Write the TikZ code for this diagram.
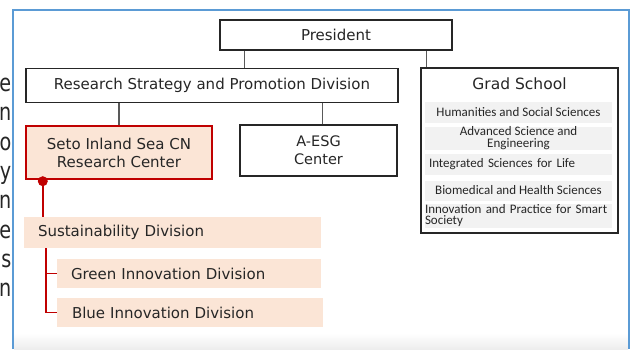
\documentclass[tikz,border=0pt]{standalone}
\usepackage{fontspec}
\setmainfont{DejaVu Sans}
\newfontfamily\gradfont{Carlito}
\usepackage{tikz}
\usetikzlibrary{calc}

\definecolor{tRed}{HTML}{C00000}
\definecolor{tPeach}{HTML}{FBE5D6}
\definecolor{tGrey}{HTML}{F2F2F2}
\definecolor{tBlue}{HTML}{5B9BD5}
\definecolor{tInk}{HTML}{262626}

\tikzset{
  unitbox/.style={draw=black!85, line width=1.2pt, fill=white, inner sep=0pt,
    text=tInk, font=\fontsize{15}{18}\selectfont, align=center},
  redunit/.style={unitbox, draw=tRed, line width=2.4pt, fill=tPeach},
  peachbar/.style={fill=tPeach, inner sep=0pt, inner xsep=14pt, text=tInk,
    font=\fontsize{15}{18}\selectfont, align=left},
  gradbar/.style={fill=tGrey, inner sep=0pt, minimum width=187pt, text=tInk,
    font=\gradfont\fontsize{13}{12}\selectfont},
  conn/.style={draw=black!65, line width=1.1pt},
  redline/.style={draw=tRed, line width=1.6pt},
  bluerule/.style={draw=tBlue, line width=1.4pt}
}

\begin{document}
\begin{tikzpicture}[x=1pt,y=-1pt]
\useasboundingbox (0,0) rectangle (633,349);
\shade[top color=white, bottom color=black!7] (14,333) rectangle (628,349);
\draw[bluerule] (13,349) |- (629,10) -- (629,349);

% clipped letters of the paragraph on the left
\foreach \ch [count=\i] in {e,n,o,y,n,e,s,n}
  \node[anchor=base east, inner sep=0pt, text=tInk, font=\fontsize{24}{28}\selectfont]
    (lt\i) at (11.5,{91.5+(\i-1)*29.3}) {\scalebox{0.8}[1]{\ch}};

\node[unitbox, minimum width=232pt, minimum height=30pt] (pres) at (336,35) {President};
\node[unitbox, minimum width=372pt, minimum height=34pt] (rspd) at (212,85.5) {Research Strategy and Promotion Division};
\node[redunit, minimum width=186pt, minimum height=53pt] (seto) at (119,152.5) {Seto Inland Sea CN\\Research Center};
\node[unitbox, font=\fontsize{14.5}{18}\selectfont, minimum width=157pt, minimum height=51pt] (aesg) at (318.5,150.5) {A-ESG\\Center};

\node[unitbox, minimum width=197pt, minimum height=165pt] (grad) at (519.5,150.5) {};
\node[text=tInk, inner sep=0pt, font=\fontsize{15.5}{18}\selectfont] (gradtitle) at (519.5,84) {Grad School};
\node[gradbar, minimum height=21pt] (hss) at (518.5,112.5) {Humanities and Social Sciences};
\node[gradbar, minimum height=21pt, align=center] (ase) at (518.5,138.5) {Advanced Science and\\Engineering};
\node[gradbar, minimum height=21pt, text width=179pt, align=left] (isl) at (518.5,164.5) {Integrated Sciences for Life};
\node[gradbar, minimum height=20pt] (bhs) at (518.5,190.5) {Biomedical and Health Sciences};
\node[gradbar, minimum height=24pt, text width=187pt, align=left, font=\gradfont\fontsize{13}{11.5}\selectfont] (ips) at (518.5,215.5) {Innovation and Practice for Smart\\Society};

\node[peachbar, minimum height=31pt, text width=269pt] (sust) at (172.5,232.5) {Sustainability Division};
\node[peachbar, minimum height=29pt, text width=236pt] (green) at (189,273.5) {Green Innovation Division};
\node[peachbar, minimum height=29pt, inner xsep=15pt, text width=236pt] (blue) at (190,312.5) {Blue Innovation Division};

\draw[conn] ([xshift=25pt]pres.south west) -- ([xshift=25pt]pres.south west |- rspd.north);
\draw[conn] ([xshift=6pt]grad.north west) -- ([xshift=6pt]grad.north west |- pres.south);
\draw[conn] (seto.north) -- (seto.north |- rspd.south);
\draw[conn] ([xshift=4pt]aesg.north) -- ([xshift=4pt]aesg.north |- rspd.south);

\coordinate (setodot) at ([xshift=18pt,yshift=-1pt]seto.south west);
\draw[redline] (setodot) -- (setodot |- sust.north);
\fill[tRed] (setodot) circle (5);
\draw[redline] ([xshift=22pt]sust.south west) |- (blue.west);
\draw[redline] ([xshift=22pt]sust.south west |- green.west) -- (green.west);
\end{tikzpicture}
\end{document}
